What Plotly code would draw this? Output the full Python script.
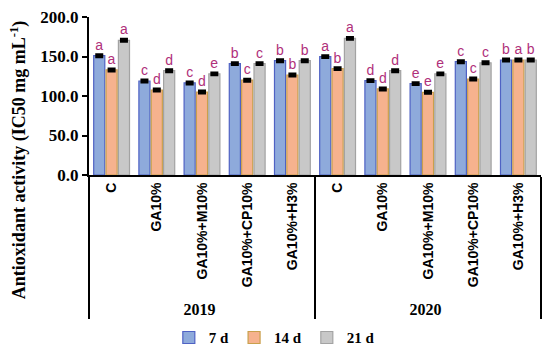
import plotly.graph_objects as go

years = ["2019"] * 5 + ["2020"] * 5
treatments = ["C", "GA10%", "GA10%+M10%", "GA10%+CP10%", "GA10%+H3%"] * 2

series_names = ["7 d", "14 d", "21 d"]
values_7d = [151, 119, 116.5, 141, 144.7, 149.8, 119.4, 115.6, 143.4, 145.6]
values_14d = [133, 107.6, 105, 120, 126.6, 134.6, 108.9, 104.7, 121.5, 145.6]
values_21d = [170.5, 132, 128, 141, 144.7, 173, 132, 128, 142, 145.6]
errors_7d = [1.2] * 10
errors_14d = [1.2] * 10
errors_21d = [1.2] * 10

letters_7d = ["a", "c", "c", "b", "b", "a", "d", "e", "c", "b"]
letters_14d = ["a", "d", "d", "c", "b", "b", "d", "e", "c", "a"]
letters_21d = ["a", "d", "e", "c", "b", "a", "d", "e", "c", "b"]

fills = ["#8EAADB", "#F6B28E", "#C8C8C8"]
edges = ["#4F62C4", "#C9A04C", "#A3A3A3"]

serif = "Liberation Serif"
sans = "Liberation Sans"

year_labels = ['<span style="font-family:%s;font-size:16px">%s</span>' % (serif, y) for y in years]

fig = go.Figure()
for name, vals, errs, lets, fc, ec in zip(
    series_names,
    [values_7d, values_14d, values_21d],
    [errors_7d, errors_14d, errors_21d],
    [letters_7d, letters_14d, letters_21d],
    fills, edges,
):
    fig.add_trace(go.Bar(
        name=name,
        x=[year_labels, treatments],
        y=vals,
        marker=dict(color=fc, line=dict(color=ec, width=1.2)),
        error_y=dict(type="data", array=errs, visible=True, color="black", thickness=3, width=4),
        text=lets,
        textposition="outside",
        textfont=dict(family=sans, size=14, color="#B0307A"),
        cliponaxis=False,
        hoverinfo="skip",
    ))

fig.update_layout(
    width=550, height=357,
    margin=dict(l=89, r=9, t=17, b=182, autoexpand=False),
    paper_bgcolor="white", plot_bgcolor="white",
    barmode="group", bargap=0.18, bargroupgap=0.1,
    showlegend=True,
    legend=dict(orientation="h", x=0.41, xanchor="center", y=-1.03, yanchor="middle",
                font=dict(family=serif, size=15, color="black", weight="bold"),
                itemwidth=30, tracegroupgap=0),
    font=dict(family=serif, color="black"),
)
fig.update_yaxes(
    range=[0, 200], dtick=50, tickformat=".1f",
    showline=True, linecolor="black", linewidth=2,
    ticks="outside", ticklen=5, tickwidth=2, tickcolor="black",
    showgrid=False, zeroline=False,
    tickfont=dict(family=serif, size=17, color="black", weight="bold"),
    automargin=False,
)
fig.update_xaxes(
    type="multicategory",
    tickangle=-90,
    showline=True, linecolor="black", linewidth=2,
    showdividers=True, dividercolor="black", dividerwidth=2,
    ticks="", showgrid=False,
    tickfont=dict(family=sans, size=14, color="black", weight="bold"),
    automargin=False,
)
fig.add_annotation(
    text="Antioxidant activity (IC50 mg mL<sup>-1</sup>)",
    textangle=-90, xref="paper", yref="paper",
    x=-0.155, y=0.10, xanchor="center", yanchor="middle",
    showarrow=False,
    font=dict(family=serif, size=18, color="black", weight="bold"),
)
fig.write_html("out.html", config={"displayModeBar": False},
               post_script="document.body.style.margin='0';")
